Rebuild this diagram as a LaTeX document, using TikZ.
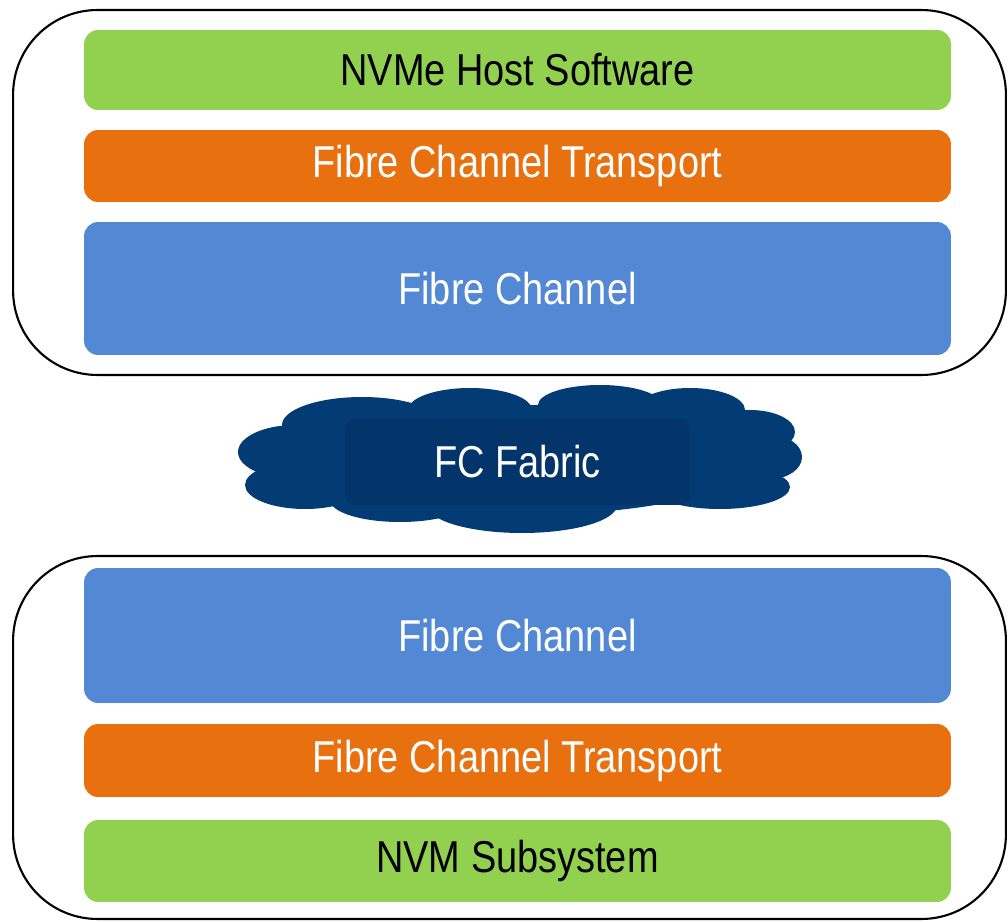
\documentclass[tikz,border=0pt]{standalone}
\usepackage{fontspec}
\setmainfont{Liberation Sans}[FakeStretch=0.85]
\usetikzlibrary{positioning}
\definecolor{hostgreen}{HTML}{92D050}
\definecolor{fcorange}{HTML}{E8700F}
\definecolor{fcblue}{HTML}{5389D4}
\definecolor{fabric}{HTML}{033C74}
\definecolor{fabricin}{HTML}{03346A}
\tikzset{every node/.style={font=\fontsize{25.4}{30}\selectfont},
         layer/.style={rounded corners=8pt, minimum width=17.34cm, inner sep=0pt},
         swlayer/.style={layer, fill=hostgreen, text=black},
         trlayer/.style={layer, fill=fcorange, text=white},
         fclayer/.style={layer, fill=fcblue, text=white},
         stackbox/.style={draw, line width=1.2pt, rounded corners=48pt, minimum width=19.86cm, inner sep=0pt},
        }

\begin{document}
\begin{tikzpicture}[x=0.02cm, y=-0.02cm]
        \useasboundingbox (0,0) rectangle (1008,922);

        \node[stackbox, minimum height=7.3cm](host)at(509.5,192.5){};
        \node[swlayer, minimum height=1.6cm](hostsw)at(517.5,70){NVMe Host Software};
        \node[trlayer, minimum height=1.44cm](hosttr)at(517.5,166){Fibre Channel Transport};
        \node[fclayer, minimum height=2.66cm](hostfc)at(517.5,288.5){Fibre Channel};

        % cloud
        \begin{scope}[fill=fabric]
            \fill (520,460) ellipse [x radius=235, y radius=55];
            \fill (295,452) ellipse [x radius=57, y radius=27];
            \fill (305,485) ellipse [x radius=60, y radius=24];
            \fill (362,425) ellipse [x radius=80, y radius=28];
            \fill (470,410) ellipse [x radius=62, y radius=22];
            \fill (600,405) ellipse [x radius=62, y radius=20];
            \fill (690,410) ellipse [x radius=55, y radius=22];
            \fill (750,432) ellipse [x radius=45, y radius=22];
            \fill (770,457) ellipse [x radius=32, y radius=22];
            \fill (720,487) ellipse [x radius=70, y radius=22];
            \fill (522,505) ellipse [x radius=95, y radius=28];
            \fill (400,500) ellipse [x radius=70, y radius=22];
        \end{scope}
        \node[fill=fabricin, rounded corners=6pt, minimum width=6.9cm, minimum height=1.74cm, text=white](fabricbox)at(517.5,461.5){FC Fabric};

        \node[stackbox, minimum height=7.26cm](subsys)at(509.5,737.5){};
        \node[fclayer, minimum height=2.7cm](subfc)at(517.5,635.5){Fibre Channel};
        \node[trlayer, minimum height=1.46cm](subtr)at(517.5,760.5){Fibre Channel Transport};
        \node[swlayer, minimum height=1.64cm](subnvm)at(517.5,861){NVM Subsystem};
\end{tikzpicture}
\end{document}
